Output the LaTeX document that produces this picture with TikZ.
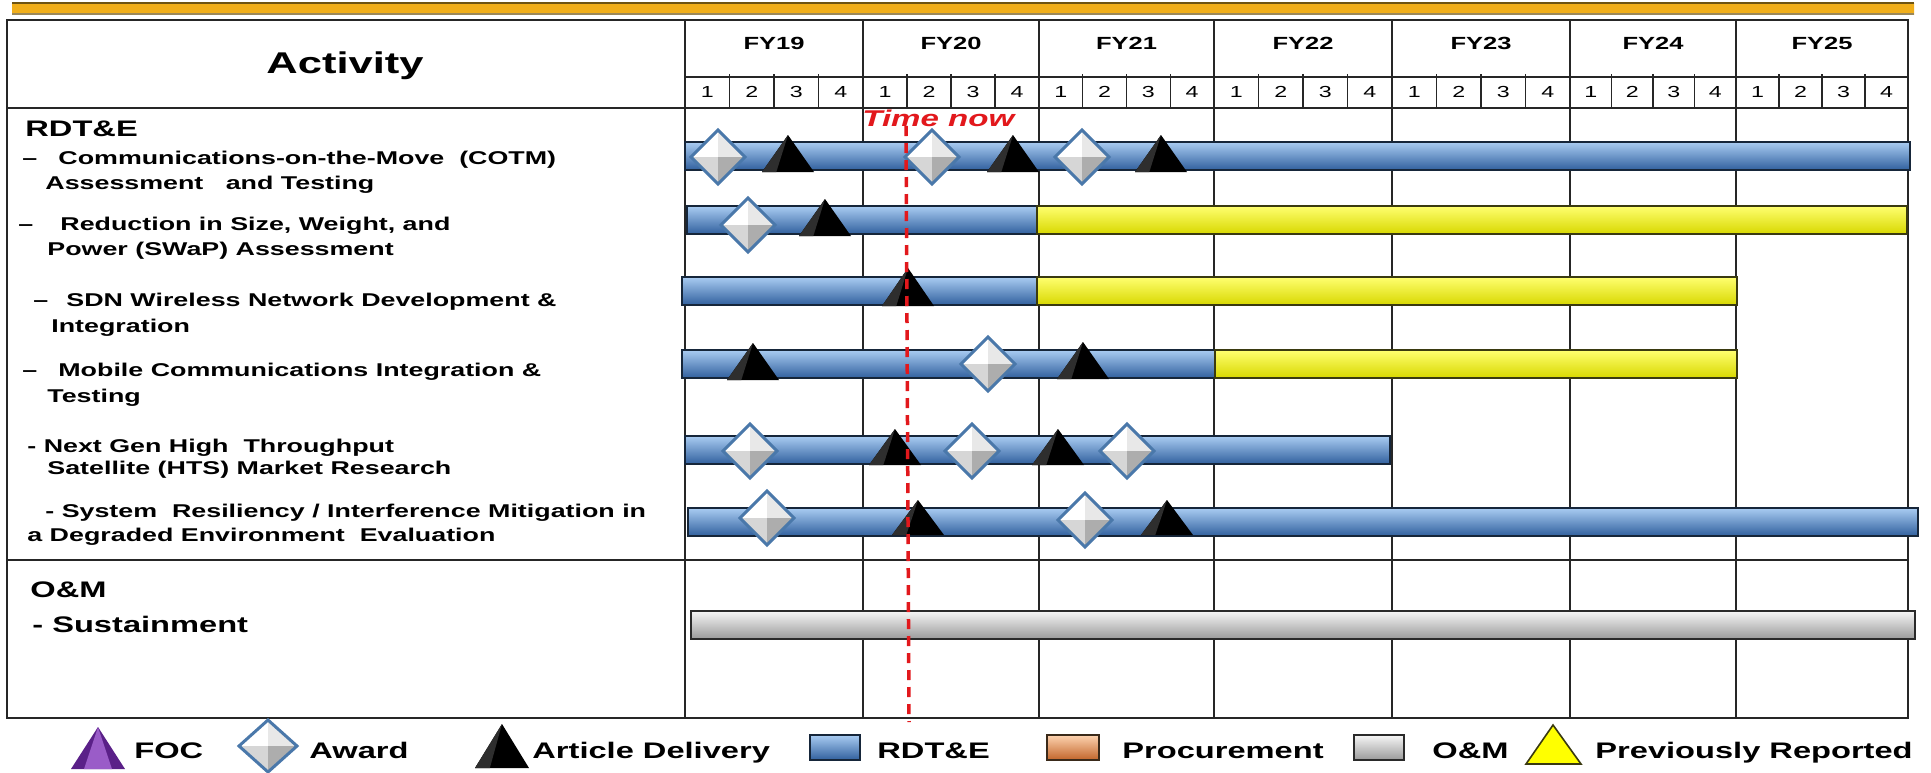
\documentclass[tikz,border=0pt]{standalone}
\usepackage{fontspec}
\setmainfont{Liberation Sans}[FakeStretch=1.45]
\definecolor{blT}{HTML}{A9CCF2}
\definecolor{blM}{HTML}{5C92D6}
\definecolor{blB}{HTML}{31609E}
\definecolor{blD}{HTML}{16263A}
\definecolor{ylT}{HTML}{FFFF70}
\definecolor{ylM}{HTML}{FFFF00}
\definecolor{ylB}{HTML}{D8D800}
\definecolor{ylD}{HTML}{3A3A10}
\definecolor{gyT}{HTML}{F6F6F6}
\definecolor{gyM}{HTML}{D2D2D2}
\definecolor{gyB}{HTML}{9A9A9A}
\definecolor{gyD}{HTML}{2A2A2A}
\definecolor{orT}{HTML}{FDD3B0}
\definecolor{orM}{HTML}{F5A065}
\definecolor{orB}{HTML}{C2652A}
\definecolor{orD}{HTML}{3A2A1A}
\definecolor{puT}{HTML}{9A5CC8}
\definecolor{puB}{HTML}{5A2088}
\definecolor{dmB}{HTML}{E8E8E8}
\definecolor{dmC}{HTML}{D6D6D6}
\definecolor{dmD}{HTML}{ADADAD}
\definecolor{dmL}{HTML}{4A78AA}
\definecolor{nowred}{HTML}{E2181C}
\definecolor{goldD}{HTML}{6E5412}
\definecolor{goldL}{HTML}{F0AE1A}
\definecolor{goldM}{HTML}{FFD24A}
% bar: x1, x2, yc, colour prefix
\newcommand\ganttbar[4]{%
  \shade[top color=#4T, middle color=#4M, bottom color=#4B] (#1,#3-14) rectangle (#2,#3+14);
  \draw[#4D, line width=0.9pt] (#1,#3-14) rectangle (#2,#3+14);}
% award diamond: x, y, half width, half height
\newcommand\award[4]{%
  \fill[white] (#1,#2) -- (#1-#3,#2) -- (#1,#2-#4) -- cycle;
  \fill[dmB] (#1,#2) -- (#1,#2-#4) -- (#1+#3,#2) -- cycle;
  \fill[dmC] (#1,#2) -- (#1-#3,#2) -- (#1,#2+#4) -- cycle;
  \fill[dmD] (#1,#2) -- (#1+#3,#2) -- (#1,#2+#4) -- cycle;
  \draw[dmL, line width=1.5pt, line join=miter] (#1-#3,#2) -- (#1,#2-#4) -- (#1+#3,#2) -- (#1,#2+#4) -- cycle;}
% delivery triangle: x, apex y, base y, half base
\newcommand\deliv[4]{%
  \fill[black] (#1,#2) -- (#1-#4,#3) -- (#1+#4,#3) -- cycle;
  \fill[black!82] (#1,#2) -- (#1-#4,#3) -- (#1-#4*0.45,#3) -- cycle;}
\begin{document}
\begin{tikzpicture}[x=0.5pt,y=-0.5pt,
  grid/.style={draw=black!85, line width=0.7pt},
  lbl/.style={font=\bfseries\fontsize{9.25}{11}\selectfont, anchor=base west, inner sep=0pt},
  head/.style={font=\bfseries\fontsize{11.25}{13}\selectfont, anchor=base west, inner sep=0pt},
  fy/.style={font=\bfseries\fontsize{8.8}{10}\selectfont, anchor=base, inner sep=0pt},
  qtr/.style={font=\fontsize{8}{9}\selectfont, anchor=base, inner sep=0pt},
  leg/.style={font=\bfseries\fontsize{11.25}{13}\selectfont, anchor=base west, inner sep=0pt}]
\useasboundingbox (0,0) rectangle (1931,772);
\fill[white] (0,0) rectangle (1931,772);
% top gold rule
\shade[top color=goldL, middle color=goldM, bottom color=goldL] (12,3) rectangle (1914,14);
\draw[goldD, line width=0.8pt] (12,3) -- (1914,3);
\draw[goldD!70, line width=0.6pt] (12,14) -- (1914,14);
% table frame
\draw[grid] (7,20) rectangle (1908,718);
\draw[grid] (685,20) -- (685,718);
\draw[grid] (685,77) -- (1908,77);
\draw[grid] (7,108) -- (1908,108);
\draw[grid] (7,560) -- (1908,560);
\foreach \a/\b/\n in {685/863/19,863/1039/20,1039/1214/21,1214/1392/22,1392/1570/23,1570/1736/24,1736/1908/25}{
  \node[fy] (fy\n) at ({(\a+\b)/2},49) {FY\n};
  \foreach \q in {1,2,3,4}{
    \node[qtr] (q\n-\q) at ({\a+(\b-\a)*(\q-0.5)/4},97) {\q};}
  \foreach \q in {1,2,3}{
    \draw[grid] ({\a+(\b-\a)*\q/4},74) -- ({\a+(\b-\a)*\q/4},108);}
  \draw[grid] (\b,20) -- (\b,718);
}
% headings
\node[font=\bfseries\fontsize{15}{18}\selectfont, anchor=base, inner sep=0pt] (act) at (345,73) {Activity};
\node[head] (rdte) at (25,136) {RDT\&E};
\node[lbl] (d1) at (22,164) {–};
\node[lbl] (r1a) at (58,164) {Communications-on-the-Move\ \ (COTM)};
\node[lbl] (r1b) at (45,189) {Assessment\ \ \ and Testing};
\node[lbl] (d2) at (18,230) {–};
\node[lbl] (r2a) at (60,230) {Reduction in Size, Weight, and};
\node[lbl] (r2b) at (47,255) {Power (SWaP) Assessment};
\node[lbl] (d3) at (33,306) {–};
\node[lbl] (r3a) at (66,306) {SDN Wireless Network Development \&};
\node[lbl] (r3b) at (51,332) {Integration};
\node[lbl] (d4) at (22,376) {–};
\node[lbl] (r4a) at (58,376) {Mobile Communications Integration \&};
\node[lbl] (r4b) at (47,402) {Testing};
\node[lbl] (r5a) at (27,452) {- Next Gen High\ \ Throughput};
\node[lbl] (r5b) at (47,474) {Satellite (HTS) Market Research};
\node[lbl] (r6a) at (45,517) {- System\ \ Resiliency / Interference Mitigation in};
\node[lbl] (r6b) at (27,541) {a Degraded Environment\ \ Evaluation};
\node[head] (om) at (30,597) {O\&M};
\node[head] (sus) at (32,632) {- Sustainment};
% bars
\ganttbar{685}{1910}{156}{bl}
\ganttbar{687}{1037}{220}{bl}\ganttbar{1037}{1907}{220}{yl}
\ganttbar{682}{1037}{291}{bl}\ganttbar{1037}{1737}{291}{yl}
\ganttbar{682}{1215}{364}{bl}\ganttbar{1215}{1737}{364}{yl}
\ganttbar{685}{1390}{450}{bl}
\ganttbar{688}{1918}{522}{bl}
\ganttbar{691}{1915}{625}{gy}
% markers row 1
\award{718}{157}{27}{27}\deliv{788}{135}{172}{26}
\award{932}{157}{27}{27}\deliv{1013}{135}{172}{26}
\award{1082}{157}{27}{27}\deliv{1161}{135}{172}{26}
% row 2
\award{748}{225}{27}{27}\deliv{825}{199}{236}{26}
% row 3
\deliv{908}{268}{306}{26}
% row 4
\deliv{753}{343}{380}{26}\award{988}{364}{27}{27}\deliv{1083}{342}{379}{26}
% row 5
\award{750}{451}{27}{27}\deliv{895}{429}{465}{26}\award{972}{451}{27}{27}
\deliv{1058}{429}{465}{26}\award{1127}{451}{27}{27}
% row 6
\award{767}{518}{27}{27}\deliv{918}{500}{535}{26}\award{1085}{520}{27}{27}
\deliv{1167}{500}{535}{26}
% time now
\node[font=\bfseries\itshape\fontsize{11.4}{13}\selectfont, text=nowred, anchor=base west, inner sep=0pt] (now) at (862,126) {Time now};
\coordinate (nowtop) at (906,126);
\coordinate (nowbot) at (909,722);
\draw[nowred, line width=1.75pt, dash pattern=on 5pt off 3.5pt] (nowtop) -- (nowbot);
% legend
\fill[puB] (98,727) -- (71,769) -- (125,769) -- cycle;
\fill[puT] (98,727) -- (84,769) -- (112,769) -- cycle;
\node[leg] (lfoc) at (134,758) {FOC};
\award{268}{746}{29}{26}
\node[leg] (laward) at (309,758) {Award};
\deliv{502}{724}{768}{27}
\node[leg] (ldel) at (532,758) {Article Delivery};
\shade[top color=blT, middle color=blM, bottom color=blB] (810,735) rectangle (860,760);
\draw[blD, line width=0.9pt] (810,735) rectangle (860,760);
\node[leg] (lrd) at (877,758) {RDT\&E};
\shade[top color=orT, middle color=orM, bottom color=orB] (1047,735) rectangle (1099,760);
\draw[orD, line width=0.9pt] (1047,735) rectangle (1099,760);
\node[leg] (lpro) at (1122,758) {Procurement};
\shade[top color=gyT, middle color=gyM, bottom color=gyB] (1354,735) rectangle (1404,760);
\draw[gyD, line width=0.9pt] (1354,735) rectangle (1404,760);
\node[leg] (lom) at (1432,758) {O\&M};
\fill[ylM, draw=ylD, line width=0.8pt] (1553,725) -- (1526,764) -- (1581,764) -- cycle;
\node[leg] (lprev) at (1595,758) {Previously Reported};
\end{tikzpicture}
\end{document}
